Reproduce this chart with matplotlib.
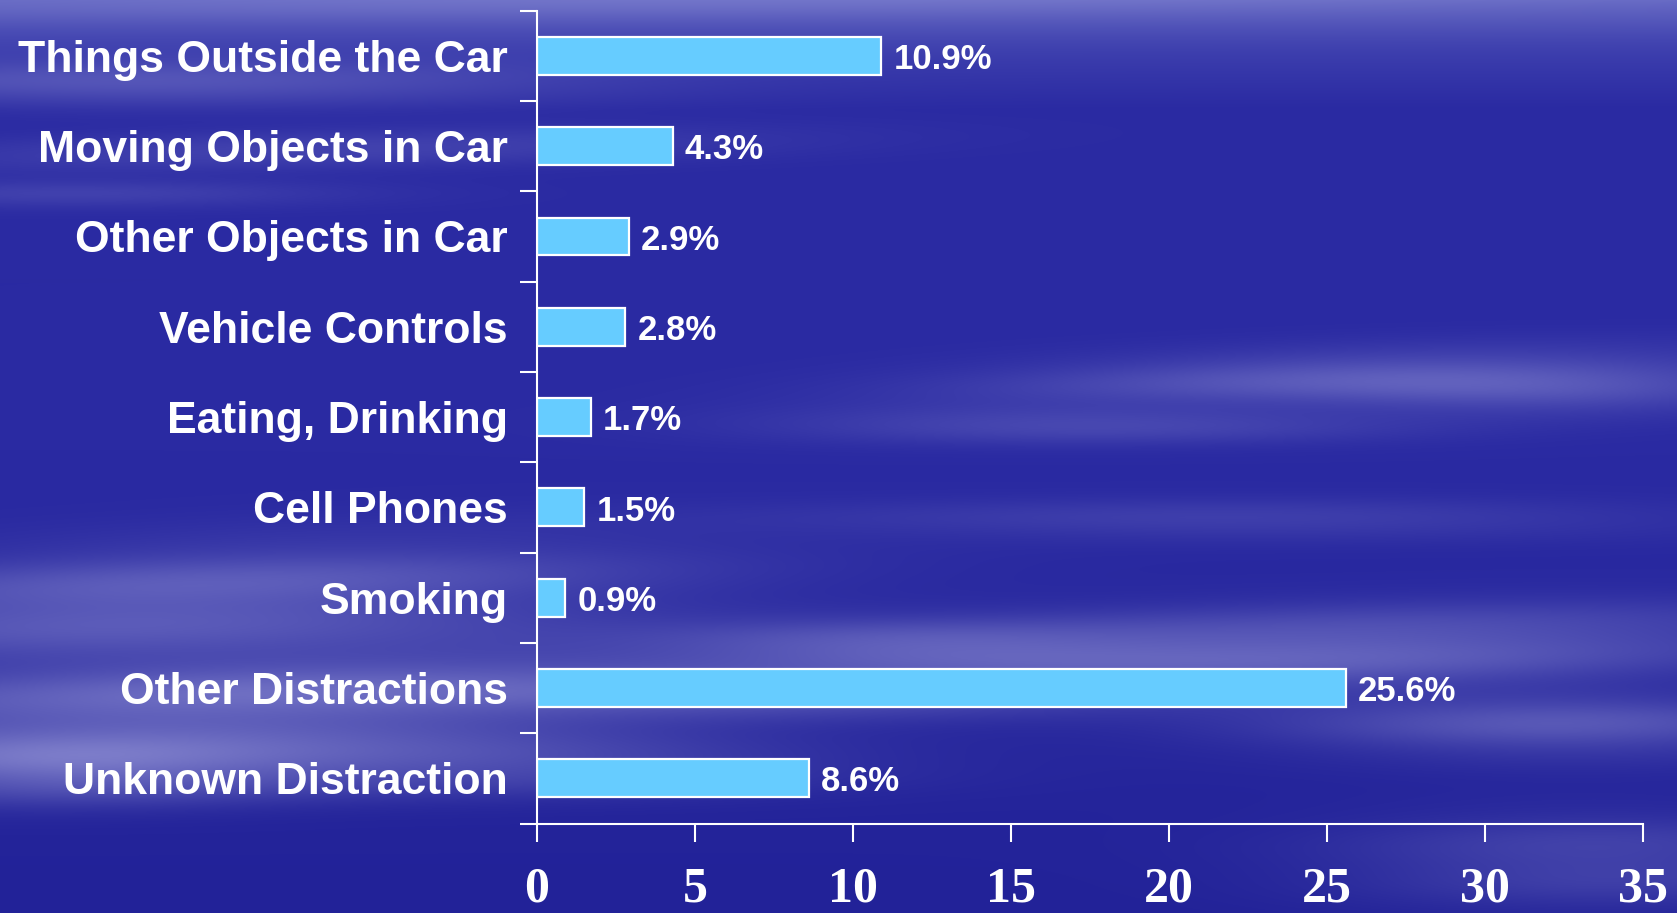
import numpy as np
import matplotlib
matplotlib.use("Agg")
import matplotlib.pyplot as plt

# distraction categories, top to bottom, with the percentage shown beside each bar
categories = ["Things Outside the Car", "Moving Objects in Car", "Other Objects in Car",
              "Vehicle Controls", "Eating, Drinking", "Cell Phones", "Smoking",
              "Other Distractions", "Unknown Distraction"]
values = [10.9, 4.3, 2.9, 2.8, 1.7, 1.5, 0.9, 25.6, 8.6]
xticks = [0, 5, 10, 15, 20, 25, 30, 35]

W, H = 1677, 913
fig = plt.figure(figsize=(W/100, H/100), dpi=100)

# sky background: dark blue gradient with soft horizontal cloud streaks
yy, xx = np.mgrid[0:H, 0:W].astype(float)
top = np.array([88, 92, 190.])
mid = np.array([42, 42, 162.])
bot = np.array([34, 34, 152.])
t = np.clip(yy/110.0, 0, 1)[..., None]**0.7
base = top*(1-t) + mid*t
t2 = np.clip((yy-450)/460.0, 0, 1)[..., None]
base = base*(1-t2) + bot*t2

clouds = [  # cx, cy, sx, sy, slope, amp
    (800, 0, 1600, 28, 0.0, 0.30),
    (150, 85, 420, 22, 0.0, 0.30),
    (320, 150, 450, 18, -0.02, 0.22),
    (80, 195, 280, 14, 0.0, 0.18),
    (1350, 375, 380, 26, -0.03, 0.34),
    (1080, 425, 320, 18, 0.0, 0.25),
    (1560, 395, 240, 22, 0.0, 0.24),
    (1250, 520, 440, 20, 0.0, 0.18),
    (160, 600, 460, 50, -0.05, 0.45),
    (220, 705, 500, 52, -0.05, 0.52),
    (60, 770, 240, 30, 0.0, 0.42),
    (470, 765, 340, 28, 0.0, 0.30),
    (1300, 650, 480, 38, -0.03, 0.48),
    (1560, 725, 280, 32, 0.0, 0.36),
    (900, 645, 240, 22, 0.0, 0.26),
    (800, 700, 340, 18, 0.0, 0.22),
    (1600, 860, 260, 45, 0.0, 0.26),
]
I = np.zeros((H, W))
for cx, cy, sx, sy, sl, a in clouds:
    I += a*np.exp(-((xx-cx)/sx)**2 - ((yy-cy-sl*(xx-cx))/sy)**2)
I *= 0.9 + 0.1*np.sin(yy/9.0 + xx/500.0)
I = np.clip(I, 0, 0.75)[..., None]
white = np.array([178, 178, 230.])
img = (base*(1-I) + white*I)/255.0

bg = fig.add_axes([0, 0, 1, 1])
bg.imshow(img, aspect="auto", extent=[0, 1, 0, 1], interpolation="bilinear")
bg.set_axis_off()

ax = fig.add_axes([537/W, 1-823.5/H, (1643-537)/W, (823.5-10.7)/H])
ax.patch.set_alpha(0)

n = len(categories)
ypos = np.arange(n) + 0.5
ax.barh(ypos, values, height=0.42, color="#66CCFF", edgecolor="white", linewidth=1.6)

for y, v in zip(ypos, values):
    ax.text(v + 0.38, y + 0.04, "%.1f%%" % v, color="white", fontsize=25,
            fontweight="bold", family="Liberation Sans", va="center", ha="left")

ax.set_xlim(0, 35)
ax.set_ylim(n, 0)
ax.set_xticks(xticks)
ax.set_xticklabels([str(x) for x in xticks], fontsize=36, fontweight="bold",
                   family="Liberation Serif", color="white")
ax.set_yticks(np.arange(n+1))
ax.set_yticklabels([])
ax.set_yticks(ypos, minor=True)
ax.set_yticklabels(categories, minor=True, fontsize=32, fontweight="bold",
                   family="Liberation Sans", color="white")
ax.tick_params(axis="y", which="minor", length=0, pad=21)
ax.tick_params(axis="y", which="major", length=12, width=1.5, color="white", direction="out")
ax.tick_params(axis="x", length=13, width=1.5, color="white", direction="out", pad=18)

for s in ["top", "right"]:
    ax.spines[s].set_visible(False)
for s in ["left", "bottom"]:
    ax.spines[s].set_color("white")
    ax.spines[s].set_linewidth(1.5)

fig.savefig("out.png", dpi=100)
